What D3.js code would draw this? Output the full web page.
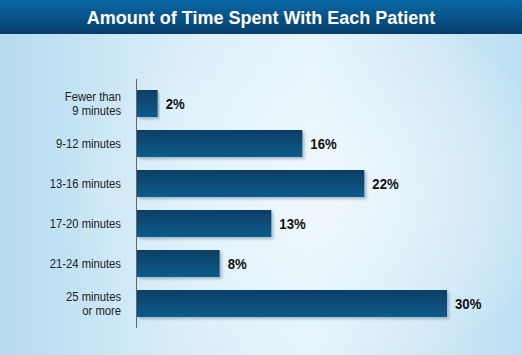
<!DOCTYPE html>
<html>
<head>
<meta charset="utf-8">
<style>
    body { margin: 0; }
    svg { display: block; }
    .cat { font-family: 'Liberation Sans', Arial, sans-serif; font-size: 12.5px; fill: #222; }
    .val { font-family: 'Liberation Sans', Arial, sans-serif; font-size: 15.5px; font-weight: bold; fill: #111; }
    .title { font-family: 'Liberation Sans', Arial, sans-serif; font-size: 18px; font-weight: bold; fill: #fff; }
</style>
</head>
<body>
<svg width="522" height="355"></svg>
<script src="https://cdn.jsdelivr.net/npm/d3@7"></script>
<script>
    var categories = [
        ["Fewer than", "9 minutes"],
        ["9-12 minutes"],
        ["13-16 minutes"],
        ["17-20 minutes"],
        ["21-24 minutes"],
        ["25 minutes", "or more"]
    ];
    var values = [2, 16, 22, 13, 8, 30];
    var title = "Amount of Time Spent With Each Patient";

    var svg = d3.select("svg"),
        W = 522, H = 355,
        axisX = 137, labelX = 121;

    var defs = svg.append("defs");

    // page background
    var bg = defs.append("linearGradient").attr("id", "bg")
        .attr("x1", 0).attr("y1", 0).attr("x2", 1).attr("y2", 0);
    bg.append("stop").attr("offset", 0).attr("stop-color", "#b5dbf0");
    bg.append("stop").attr("offset", 0.35).attr("stop-color", "#d9eef9");
    bg.append("stop").attr("offset", 0.6).attr("stop-color", "#e4f3fb");
    bg.append("stop").attr("offset", 1).attr("stop-color", "#bddff2");

    var glow = defs.append("radialGradient").attr("id", "glow")
        .attr("cx", 0.55).attr("cy", 0.5).attr("r", 0.5);
    glow.append("stop").attr("offset", 0).attr("stop-color", "#f2f9fd").attr("stop-opacity", 0.8);
    glow.append("stop").attr("offset", 1).attr("stop-color", "#f2f9fd").attr("stop-opacity", 0);

    var head = defs.append("linearGradient").attr("id", "head")
        .attr("x1", 0).attr("y1", 0).attr("x2", 0).attr("y2", 1);
    head.append("stop").attr("offset", 0).attr("stop-color", "#0b68a8");
    head.append("stop").attr("offset", 1).attr("stop-color", "#073d69");

    var barG = defs.append("linearGradient").attr("id", "bar")
        .attr("x1", 0).attr("y1", 0).attr("x2", 0).attr("y2", 1);
    barG.append("stop").attr("offset", 0).attr("stop-color", "#093e64");
    barG.append("stop").attr("offset", 1).attr("stop-color", "#0a5b8b");

    var shadow = defs.append("filter").attr("id", "shadow")
        .attr("x", "-5%").attr("y", "-20%").attr("width", "115%").attr("height", "160%");
    shadow.append("feDropShadow").attr("dx", 2).attr("dy", 2).attr("stdDeviation", 1.5)
        .attr("flood-color", "#5b7e96").attr("flood-opacity", 0.5);

    svg.append("rect").attr("width", W).attr("height", H).attr("fill", "url(#bg)");
    svg.append("ellipse").attr("cx", 300).attr("cy", 190).attr("rx", 260).attr("ry", 190)
        .attr("fill", "url(#glow)");

    svg.append("rect").attr("width", W).attr("height", 34).attr("fill", "url(#head)");
    svg.append("text").attr("class", "title")
        .attr("x", W / 2).attr("y", 24).attr("text-anchor", "middle")
        .text(title);

    var x = d3.scaleLinear().domain([0, 30]).range([axisX, 447]);
    var y = d3.scaleBand().domain(d3.range(values.length))
        .range([83.5, 323.5]).paddingInner(0.325).paddingOuter(0.1625);

    var g = svg.append("g");

    g.selectAll("rect.bar").data(values).enter().append("rect")
        .attr("class", "bar")
        .attr("x", x(0))
        .attr("y", function (d, i) { return y(i); })
        .attr("width", function (d) { return x(d) - x(0); })
        .attr("height", y.bandwidth())
        .attr("fill", "url(#bar)")
        .attr("filter", "url(#shadow)");

    g.selectAll("text.val").data(values).enter().append("text")
        .attr("class", "val")
        .attr("transform", function (d, i) {
            return "translate(" + (x(d) + 8) + "," + (y(i) + y.bandwidth() / 2) + ") scale(0.85,1)";
        })
        .attr("dy", "0.36em")
        .text(function (d) { return d + "%"; });

    // two-line labels: one text per line so they stack cleanly
    var lineGap = 13.5;
    categories.forEach(function (lines, i) {
        var cy = y(i) + y.bandwidth() / 2;
        lines.forEach(function (t, j) {
            var off = (j - (lines.length - 1) / 2) * lineGap;
            g.append("text")
                .attr("class", "cat")
                .attr("text-anchor", "end")
                .attr("transform", "translate(" + labelX + "," + (cy + off) + ") scale(0.9,1)")
                .attr("dy", "0.36em")
                .text(t);
        });
    });

    g.append("line")
        .attr("x1", axisX - 0.5).attr("x2", axisX - 0.5)
        .attr("y1", 79).attr("y2", 328)
        .attr("stroke", "#666").attr("stroke-width", 1);
</script>
</body>
</html>
